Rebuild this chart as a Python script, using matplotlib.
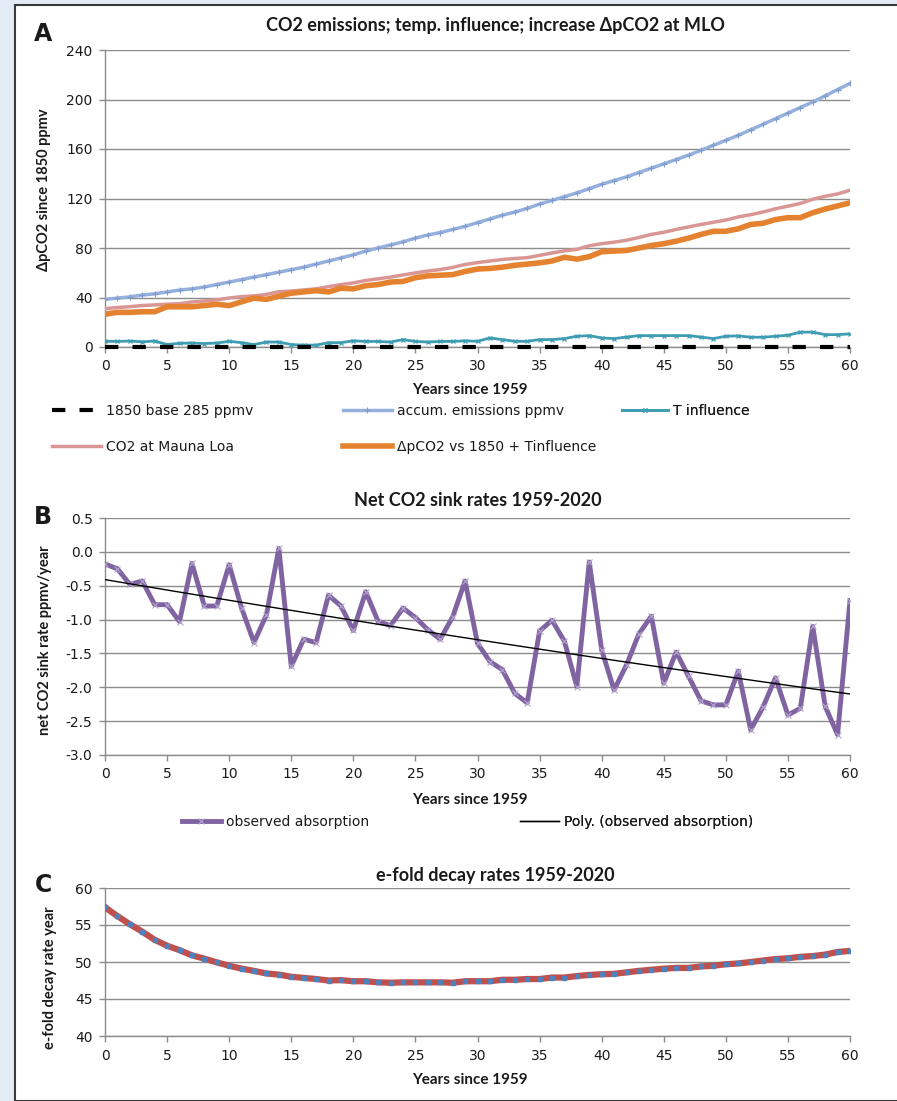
import numpy as np
import matplotlib.pyplot as plt
from matplotlib.patches import Rectangle

W, H = 897, 1101

# years since 1959
years = np.arange(61)

# panel A, ppmv above the 1850 base
accum_emissions = [38.5, 39.5, 40.5, 42, 43, 44.5, 46, 47, 48.5, 50.5,
                   52.5, 54.5, 56.5, 58.5, 60.5, 62.5, 64.5, 67, 69.5, 72,
                   74.5, 77.5, 80, 82.5, 85, 88, 90.5, 92.5, 95, 97.5,
                   100.5, 103.5, 106.5, 109, 112, 115.5, 118.5, 121.5, 124.5, 128,
                   131.5, 134.5, 137.5, 141, 144.5, 148, 151.5, 155, 159, 163,
                   167, 171, 175.5, 180, 184.5, 189, 193.5, 198, 203, 208, 213]
co2_mlo = [31.0, 31.9, 32.6, 33.5, 34.0, 34.6, 35.0, 36.4, 37.2, 38.1,
           39.6, 40.7, 41.3, 42.5, 44.7, 45.2, 46.1, 47.0, 48.8, 50.4,
           51.8, 53.8, 55.1, 56.5, 58.2, 59.9, 61.4, 62.6, 64.3, 66.7,
           68.2, 69.5, 70.7, 71.5, 72.2, 74.0, 76.0, 77.7, 78.9, 81.8,
           83.5, 84.7, 86.3, 88.5, 91.0, 92.7, 95.0, 97.1, 99.0, 100.8,
           102.6, 105.1, 106.9, 109.1, 111.7, 113.8, 116.0, 119.4, 121.8, 123.7, 126.7]
dpco2_tinf = [26.5, 28, 28, 28.5, 28.5, 32.5, 32.5, 32.5, 33.5, 34.5,
              33.5, 36.5, 39.5, 38.5, 41, 43.5, 44.5, 45.5, 44.5, 47.5,
              47, 49.5, 50.5, 52.5, 53, 56, 57.5, 58, 58.5, 61,
              63, 63.5, 64.5, 66, 67, 68, 69.5, 72.5, 71, 73,
              77, 77.5, 78, 80, 82, 83.5, 85.5, 88, 91, 93.5,
              93.5, 95.5, 99, 100, 103, 104.5, 104.5, 108.5, 111.5, 114, 116.5]
t_influence = [4.6, 4.5, 4.8, 4.2, 4.8, 2.0, 3.0, 3.2, 2.8, 3.2,
               4.6, 3.5, 2.0, 4.0, 4.0, 2.0, 1.5, 1.5, 3.5, 3.5,
               5.0, 4.5, 4.5, 4.0, 6.0, 4.5, 4.0, 4.5, 4.5, 5.0,
               4.6, 7.3, 6.0, 4.6, 4.6, 6.0, 6.0, 6.8, 8.7, 9.2,
               7.3, 6.8, 8.0, 9.2, 9.2, 9.2, 9.2, 9.2, 8.0, 6.8,
               8.7, 9.0, 7.9, 7.9, 8.7, 9.5, 12.0, 12.0, 10.0, 10.0, 10.6]
base_1850 = [0.0] * 61

# panel B, ppmv/year
observed_absorption = [-0.18, -0.25, -0.48, -0.43, -0.78, -0.78, -1.03, -0.17, -0.80, -0.80,
                       -0.19, -0.83, -1.34, -0.93, 0.05, -1.69, -1.29, -1.34, -0.64, -0.80,
                       -1.16, -0.59, -1.03, -1.09, -0.83, -0.97, -1.15, -1.29, -0.96, -0.43,
                       -1.35, -1.62, -1.74, -2.09, -2.23, -1.17, -1.01, -1.32, -1.99, -0.15,
                       -1.45, -2.04, -1.67, -1.21, -0.95, -1.94, -1.48, -1.84, -2.20, -2.26,
                       -2.26, -1.76, -2.63, -2.29, -1.86, -2.41, -2.31, -1.10, -2.28, -2.70, -0.72]

# panel C, years
efold_decay = [57.4, 56.2, 55.1, 54.1, 53.0, 52.2, 51.6, 50.9, 50.45, 49.95,
               49.5, 49.1, 48.8, 48.45, 48.3, 48.0, 47.85, 47.7, 47.5, 47.55,
               47.4, 47.4, 47.25, 47.2, 47.25, 47.25, 47.25, 47.25, 47.2, 47.4,
               47.4, 47.4, 47.6, 47.6, 47.7, 47.7, 47.9, 47.9, 48.1, 48.25,
               48.35, 48.4, 48.6, 48.8, 48.95, 49.1, 49.2, 49.2, 49.4, 49.5,
               49.7, 49.8, 50.0, 50.2, 50.4, 50.5, 50.7, 50.8, 51.0, 51.35, 51.5]

plt.rcParams['font.family'] = ['DejaVu Sans']
TITLE_FONT = ['Lato', 'DejaVu Sans']
GRID = '#8c8c8c'
TXT = '#1a1a1a'

fig = plt.figure(figsize=(W / 100, H / 100), dpi=100)
fig.patch.set_facecolor('#e3ebf6')
fig.patches.append(Rectangle((15 / W, 0), 1, 1 - 5 / H, transform=fig.transFigure,
                             facecolor='white', edgecolor='#3a3a3a', lw=1.5, zorder=-5))


def px(x, y):
    return x / W, 1 - y / H


def make_axes(top, bottom):
    l, t = px(105, top)
    r, b = px(850, bottom)
    return fig.add_axes([l, b, r - l, t - b])


def style(ax, ylim, yticks, fmt):
    ax.set_facecolor('none')
    ax.set_xlim(0, 60)
    ax.set_xticks(range(0, 61, 5))
    ax.set_ylim(*ylim)
    ax.set_yticks(yticks)
    ax.set_yticklabels([fmt.format(v) for v in yticks])
    ax.grid(axis='y', color=GRID, lw=1)
    ax.set_axisbelow(True)
    for s in ['top', 'right']:
        ax.spines[s].set_visible(False)
    for s in ['left', 'bottom']:
        ax.spines[s].set_color(GRID)
        ax.spines[s].set_linewidth(1)
    ax.tick_params(direction='out', length=4, width=1, color=GRID,
                   labelsize=10, labelcolor=TXT, pad=5)


def legend_at(ax, handles, labels, x, y, hl):
    leg = ax.legend(handles, labels, loc='center left', bbox_to_anchor=px(x, y),
                    bbox_transform=fig.transFigure, frameon=False, fontsize=10,
                    handlelength=hl, handletextpad=0.4, borderpad=0, borderaxespad=0,
                    labelcolor=TXT)
    ax.add_artist(leg)


def title(x, y, s):
    fig.text(*px(x, y), s, family=TITLE_FONT, weight='bold', fontsize=13,
             ha='center', va='center', color=TXT)


def xlabel(y):
    fig.text(*px(470, y), 'Years since 1959', family=TITLE_FONT, weight='bold', fontsize=11,
             ha='center', va='center', color=TXT)


def ylabel(x, y, s):
    fig.text(*px(x, y), s, family=TITLE_FONT, weight='bold', fontsize=10.5,
             rotation=90, ha='center', va='center', color=TXT)


def letter(y, s):
    fig.text(*px(43, y), s, fontsize=17, weight='bold', ha='center', va='center', color=TXT)


# ---- panel A
axA = make_axes(50, 347)
style(axA, (0, 240), list(range(0, 241, 40)), '{:d}')
l_base, = axA.plot(years, base_1850, color='black', lw=3, dashes=(3.2, 3.4), zorder=5, clip_on=False)
l_acc, = axA.plot(years, accum_emissions, color='#95b0dc', lw=2.5, marker='+', ms=4, mew=0.8,
                  mec='#7f9bd0', zorder=3)
l_t, = axA.plot(years, t_influence, color='#3f9db3', lw=2, marker='x', ms=3.5, mew=0.9, zorder=3)
l_mlo, = axA.plot(years, co2_mlo, color='#d99694', lw=2.5, zorder=3)
l_dp, = axA.plot(years, dpco2_tinf, color='#e5822f', lw=4, zorder=4)
title(495, 25, 'CO2 emissions; temp. influence; increase \u0394pCO2 at MLO')
letter(34, 'A')
ylabel(44, 190, '\u0394pCO2 since 1850 ppmv')
xlabel(390)
legend_at(axA, [l_base], ['1850 base 285 ppmv'], 52, 411, 3.5)
legend_at(axA, [l_mlo], ['CO2 at Mauna Loa'], 52, 447, 3.5)
legend_at(axA, [l_acc], ['accum. emissions ppmv'], 343, 411, 3.5)
legend_at(axA, [l_dp], ['\u0394pCO2 vs 1850 + Tinfluence'], 343, 447, 3.5)
legend_at(axA, [l_t], ['T influence'], 622, 411, 3.3)

# ---- panel B
axB = make_axes(518, 755)
yb = [-3.0, -2.5, -2.0, -1.5, -1.0, -0.5, 0.0, 0.5]
style(axB, (-3.0, 0.5), yb, '{:.1f}')
l_obs, = axB.plot(years, observed_absorption, color='#8064a2', lw=3.5, marker='x', ms=4, mew=0.8,
                  mec='#b7a6cf', zorder=3)
coef = np.polyfit(years, observed_absorption, 2)
l_fit, = axB.plot(years, np.polyval(coef, years), color='black', lw=1, zorder=4)
title(478, 500, 'Net CO2 sink rates 1959-2020')
letter(517, 'B')
ylabel(45, 640, 'net CO2 sink rate ppmv/year')
xlabel(800)
legend_at(axB, [l_obs], ['observed absorption'], 182, 822, 2.8)
legend_at(axB, [l_fit], ['Poly. (observed absorption)'], 520, 822, 2.8)

# ---- panel C
axC = make_axes(888, 1036)
style(axC, (40, 60), list(range(40, 61, 5)), '{:d}')
axC.plot(years, efold_decay, color='#c0504d', lw=4.5, zorder=3)
axC.plot(years, efold_decay, color='#4f81bd', lw=0, marker='s', ms=2.8, zorder=4)
title(495, 875, 'e-fold decay rates 1959-2020')
letter(885, 'C')
ylabel(50, 978, 'e-fold decay rate year')
xlabel(1080)

fig.savefig('out.png', dpi=100)
